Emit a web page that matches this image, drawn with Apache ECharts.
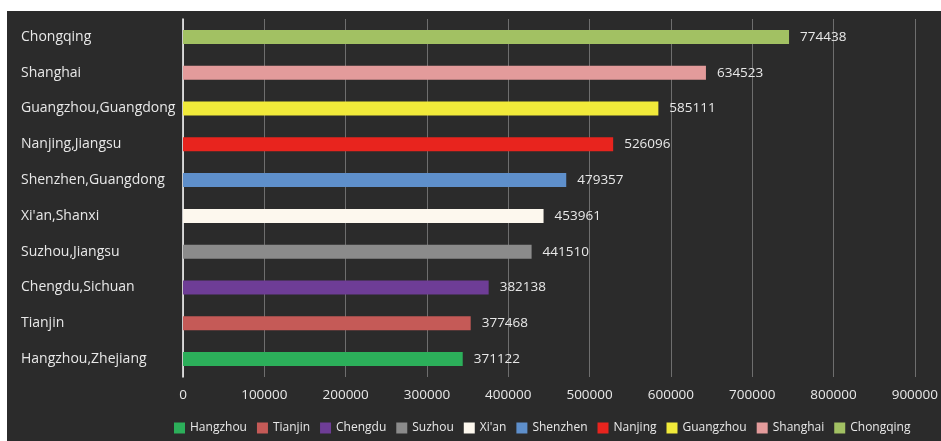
<!DOCTYPE html>
<html>
<head>
<meta charset="utf-8">
<script src="https://cdn.jsdelivr.net/npm/echarts@6/dist/echarts.min.js"></script>
<style>
html,body{margin:0;padding:0;background:#ffffff;}
#c{position:absolute;left:7px;top:11px;width:934px;height:430px;background:#2b2b2b;}
</style>
</head>
<body>
<div id="c"></div>
<script>
// Categories bottom -> top
const categories = ['Hangzhou,Zhejiang','Tianjin','Chengdu,Sichuan','Suzhou,Jiangsu',"Xi'an,Shanxi",'Shenzhen,Guangdong','Nanjing,Jiangsu','Guangzhou,Guangdong','Shanghai','Chongqing'];
const seriesNames = ['Hangzhou','Tianjin','Chengdu','Suzhou',"Xi'an",'Shenzhen','Nanjing','Guangzhou','Shanghai','Chongqing'];
// Bar lengths as drawn in the picture
const barValues = [344000, 353800, 375900, 428700, 443400, 471300, 529000, 584600, 643100, 745300];
// Value labels as printed in the picture
const labelTexts = ['371122','377468','382138','441510','453961','479357','526096','585111','634523','774438'];
const colors = ['#2caf5a','#c55a57','#6e3d96','#8b8b8b','#fdf8ee','#5e8fcb','#e8241e','#f1ea3a','#e39b9b','#a2c163'];
const xTicks = [0,100000,200000,300000,400000,500000,600000,700000,800000,900000];

const FONT = '"Open Sans", "Noto Sans", sans-serif';
const series = seriesNames.map((name, i) => ({
  name: name,
  type: 'bar',
  stack: 'all',
  barWidth: 14,
  itemStyle: {color: colors[i]},
  data: categories.map((c, j) => j === i ? barValues[i] : '-'),
  label: {
    show: true,
    position: 'right',
    distance: 11,
    color: '#e8e8e8',
    fontFamily: FONT,
    fontSize: 13.5,
    formatter: () => labelTexts[i]
  }
}));

const chart = echarts.init(document.getElementById('c'), null, {renderer: 'canvas'});
chart.setOption({
  backgroundColor: '#2b2b2b',
  animation: false,
  color: colors,
  grid: {left: 176, right: 25, top: 8, bottom: 64, containLabel: false},
  xAxis: {
    type: 'value',
    min: xTicks[0],
    max: xTicks[xTicks.length - 1],
    interval: 100000,
    axisLine: {show: false},
    axisTick: {show: false},
    splitLine: {show: true, lineStyle: {color: '#6e6e6e', width: 1}},
    axisLabel: {color: '#e8e8e8', fontFamily: FONT, fontSize: 13.5, margin: 11, formatter: v => String(v)}
  },
  yAxis: {
    type: 'category',
    data: categories,
    axisLine: {show: true, lineStyle: {color: '#ffffff', width: 1.5}},
    axisTick: {show: false},
    splitLine: {show: false},
    axisLabel: {color: '#e8e8e8', fontFamily: FONT, fontSize: 14, align: 'left', margin: 162}
  },
  legend: {
    data: seriesNames,
    left: 162,
    top: 406,
    width: 800,
    itemWidth: 11,
    itemHeight: 11,
    itemGap: 10,
    icon: 'rect',
    textStyle: {color: '#e8e8e8', fontFamily: FONT, fontSize: 12}
  },
  series: series
});
</script>
</body>
</html>
